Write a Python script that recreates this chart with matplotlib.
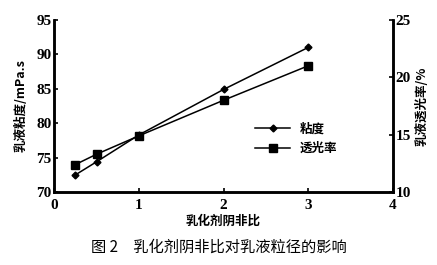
import matplotlib.pyplot as plt

plt.rcParams['font.family'] = ['Noto Sans CJK SC', 'DejaVu Sans']

ratio = [0.25, 0.5, 1, 2, 3]
viscosity = [72.5, 74.4, 78.3, 84.9, 91.0]
transmit = [12.4, 13.3, 14.9, 18.0, 21.0]

fig = plt.figure(figsize=(4.37, 2.65), dpi=100)
ax = fig.add_axes([0.124, 0.275, 0.775, 0.65])
ax2 = ax.twinx()

l1, = ax.plot(ratio, viscosity, color='black', marker='D', markersize=3.5, lw=1.1)
l2, = ax2.plot(ratio, transmit, color='black', marker='s', markersize=5.5, lw=1.1)

ax.set_xlim(0, 4)
ax.set_ylim(70, 95)
ax2.set_ylim(10, 25)
ax.set_xticks([0, 1, 2, 3, 4])
ax.set_yticks([70, 75, 80, 85, 90, 95])
ax2.set_yticks([10, 15, 20, 25])

for a in (ax, ax2):
    a.spines['top'].set_visible(False)
    for s in ('left', 'right', 'bottom'):
        a.spines[s].set_linewidth(1.8)
    a.tick_params(direction='in', length=3, width=1.2)
    for t in a.get_xticklabels() + a.get_yticklabels():
        t.set_family('Liberation Serif')
        t.set_fontsize(11)
        t.set_weight('bold')
ax.tick_params(axis='x', pad=5)
ax.tick_params(axis='y', pad=2)
ax2.tick_params(axis='y', pad=2)

ax.set_xlabel('乳化剂阴非比', fontsize=9, fontweight='bold', labelpad=2)
ax.set_ylabel('乳液粘度/mPa.s', fontsize=9, fontweight='bold', labelpad=6)
ax2.set_ylabel('乳液透光率/%', fontsize=9, fontweight='bold', labelpad=3)

ax.legend([l1, l2], ['粘度', '透光率'], loc='center left', bbox_to_anchor=(0.56, 0.31),
          frameon=False, prop={'family': 'Noto Sans CJK SC', 'size': 9, 'weight': 'bold'},
          handlelength=2.8, labelspacing=0.55)

fig.text(0.5, 0.068, '图 2　乳化剂阴非比对乳液粒径的影响', ha='center', va='center', fontsize=11)

fig.savefig('out.png', dpi=100)
